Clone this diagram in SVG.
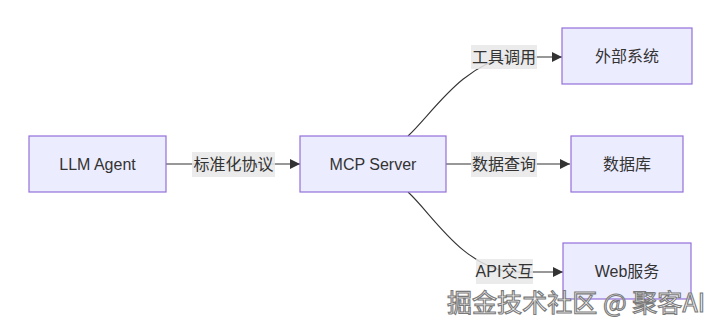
<svg xmlns="http://www.w3.org/2000/svg" width="720" height="329" viewBox="0 0 720 329">
<style>
.node rect{fill:#ECECFF;stroke:#9370DB;stroke-width:1.2}
.node text{font-family:"Liberation Sans","Noto Sans CJK SC",sans-serif;font-size:16px;fill:#333;text-anchor:middle;dominant-baseline:central}
.edge{fill:none;stroke:#333;stroke-width:1.1}
.lbl rect{fill:#e8e8e8;opacity:0.85}
.lbl text{font-family:"Liberation Sans","Noto Sans CJK SC",sans-serif;font-size:16px;fill:#333;text-anchor:middle;dominant-baseline:central}
.wm{font-family:"Noto Sans CJK SC","Liberation Sans",sans-serif;font-size:25px;fill:#fafafa;stroke:#7a7a7a;stroke-width:1.1}
</style>
<defs>
<marker id="arr" viewBox="0 0 10 10" refX="10" refY="5" markerWidth="10" markerHeight="10" markerUnits="userSpaceOnUse" orient="auto">
<path d="M0,0 L10,5 L0,10 z" fill="#333"/>
</marker>
</defs>
<rect width="720" height="329" fill="#fff"/>
<g id="edges">
<path class="edge" d="M166,164 L300,164" marker-end="url(#arr)"/>
<path class="edge" d="M446,164 L570,164" marker-end="url(#arr)"/>
<path class="edge" d="M408,136 C432,114 462,64 510,57 L562,57" marker-end="url(#arr)"/>
<path class="edge" d="M408,192 C432,214 462,266 510,272 L563,272" marker-end="url(#arr)"/>
</g>
<g id="edge-labels">
<g class="lbl"><rect x="192" y="152" width="83" height="25"/><text x="233.5" y="164.5">标准化协议</text></g>
<g class="lbl"><rect x="471" y="152" width="66" height="25"/><text x="504" y="164.5">数据查询</text></g>
<g class="lbl"><rect x="471" y="45" width="66" height="24"/><text x="504" y="57">工具调用</text></g>
<g class="lbl"><rect x="476" y="259" width="57" height="25"/><text x="504.5" y="271.5">API交互</text></g>
</g>
<g id="llm" class="node"><rect x="29" y="136" width="137" height="56"/><text x="97.5" y="164">LLM Agent</text></g>
<g id="mcp" class="node"><rect x="300" y="136" width="146" height="56"/><text x="373" y="164">MCP Server</text></g>
<g id="ext" class="node"><rect x="562" y="28" width="130" height="56"/><text x="627" y="56">外部系统</text></g>
<g id="db" class="node"><rect x="571" y="136" width="112" height="56"/><text x="627" y="164">数据库</text></g>
<g id="web" class="node"><rect x="563" y="243" width="128" height="56"/><text x="627" y="271">Web服务</text></g>
<text class="wm" x="447" y="312" textLength="258" lengthAdjust="spacingAndGlyphs">掘金技术社区 @ 聚客AI</text>
</svg>
